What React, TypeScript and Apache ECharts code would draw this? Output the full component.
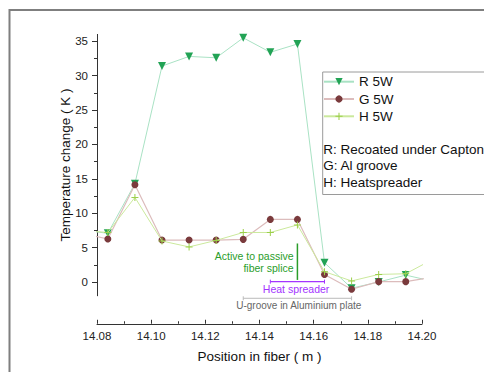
import React, { useEffect, useRef } from "react";
import * as echarts from "echarts";

const positions = [14.074, 14.084, 14.094, 14.104, 14.114, 14.124, 14.134, 14.144, 14.154, 14.164, 14.174, 14.184, 14.194, 14.204];
const rValues = [7.58, 7.08, 14.3, 31.4, 32.8, 32.6, 35.5, 33.4, 34.6, 2.8, -0.9, 0.0, 1.0, 0.1];
const gValues = [7.1, 6.25, 14.15, 6.1, 6.1, 6.1, 6.2, 9.1, 9.1, 1.1, -1.06, 0.05, 0.05, 0.7];
const hValues = [7.5, 7.2, 12.3, 5.96, 5.1, 6.05, 7.2, 7.2, 8.3, 1.5, 0.15, 1.1, 1.2, 3.3];

const seriesNames = ["R 5W", "G 5W", "H 5W"];
const xTickLabels = [14.08, 14.1, 14.12, 14.14, 14.16, 14.18, 14.2];
const yTickLabels = [0, 5, 10, 15, 20, 25, 30, 35];
const yMinorTicks = [2.5, 7.5, 12.5, 17.5, 22.5, 27.5, 32.5];
const descriptionLines = ["R: Recoated under Capton", "G: Al groove", "H: Heatspreader"];

// annotations in data coordinates
const spliceLine = { x: 14.154, y1: 5.6, y2: 0.3 };
const spliceText = [
  { text: "Active to passive", x: 14.1526, y: 3.82 },
  { text: "fiber splice", x: 14.1526, y: 2.08 },
];
const heatSpreader = { x1: 14.144, x2: 14.164, y: 0.05, label: "Heat spreader", lx: 14.1535, ly: -1.06 };
const uGroove = { x1: 14.134, x2: 14.174, y: -2.37, label: "U-groove in Aluminium plate", lx: 14.1545, ly: -3.49 };

const FONT = "'Liberation Sans', Arial, sans-serif";

export default function App() {
  const ref = useRef<HTMLDivElement>(null);
  useEffect(() => {
    if (!ref.current) return;
    const chart = echarts.init(ref.current, null, { renderer: "svg" });
    const pair = (vals: number[]) => positions.map((p, i) => [p, vals[i]]);
    const axisColor = "#333";
    chart.setOption({
      animation: false,
      backgroundColor: "#fff",
      textStyle: { fontFamily: FONT },
      grid: { left: 97, right: 62, top: 34.4, bottom: 76.25, containLabel: false },
      legend: {
        left: 323,
        top: 74.7,
        orient: "vertical",
        padding: 0,
        itemWidth: 30,
        itemHeight: 9,
        itemGap: 3.3,
        data: seriesNames,
        textStyle: { fontSize: 13.5, color: "#111", fontFamily: FONT, lineHeight: 14 },
      },
      xAxis: {
        type: "value",
        min: 14.08,
        max: 14.2,
        interval: 0.02,
        offset: 28,
        axisLine: { show: true, onZero: false, lineStyle: { color: axisColor, width: 1 } },
        axisTick: { show: true, inside: true, length: 4, lineStyle: { color: axisColor } },
        minorTick: { show: true, splitNumber: 2, length: 2.5, lineStyle: { color: axisColor } },
        splitLine: { show: false },
        minorSplitLine: { show: false },
        axisLabel: {
          fontSize: 11.5,
          color: "#222",
          margin: 6,
          fontFamily: FONT,
          formatter: (v: number) => v.toFixed(2),
          customValues: xTickLabels,
        },
        name: "Position in fiber ( m )",
        nameLocation: "middle",
        nameGap: 26,
        nameMoveOverlap: false,
        nameTextStyle: { fontSize: 13.5, color: "#111", fontFamily: FONT },
      },
      yAxis: [
        {
          type: "value",
          min: -2,
          max: 36,
          axisLine: { show: true, onZero: false, lineStyle: { color: axisColor, width: 1 } },
          axisTick: { show: true, inside: false, length: 5, customValues: yTickLabels, lineStyle: { color: axisColor } },
          splitLine: { show: false },
          axisLabel: { fontSize: 11.5, color: "#222", margin: 9, fontFamily: FONT, customValues: yTickLabels },
          name: "Temperature change ( K )",
          nameLocation: "middle",
          nameGap: 25,
          nameMoveOverlap: false,
          nameTextStyle: { fontSize: 13.5, color: "#111", fontFamily: FONT },
        },
        {
          type: "value",
          min: -2,
          max: 36,
          position: "left",
          axisLine: { show: false, onZero: false },
          axisTick: { show: true, inside: false, length: 3, customValues: yMinorTicks, lineStyle: { color: axisColor } },
          splitLine: { show: false },
          axisLabel: { show: false },
        },
      ],
      series: [
        {
          name: seriesNames[0],
          type: "line",
          data: pair(rValues),
          symbol: "triangle",
          symbolRotate: 180,
          symbolSize: 8,
          itemStyle: { color: "#22a355" },
          lineStyle: { color: "#a9e2c4", width: 1 },
          z: 3,
        },
        {
          name: seriesNames[1],
          type: "line",
          data: pair(gValues),
          symbol: "circle",
          symbolSize: 7,
          itemStyle: { color: "#7a3a3c" },
          lineStyle: { color: "#dcbcbc", width: 1.2 },
          z: 4,
        },
        {
          name: seriesNames[2],
          type: "line",
          data: pair(hValues),
          symbol: "path://M3,0H4V3H7V4H4V7H3V4H0V3H3Z",
          symbolSize: 7,
          itemStyle: { color: "#9ccf4a" },
          lineStyle: { color: "#cbe99c", width: 1 },
          z: 5,
        },
      ],
    });

    const px = (x: number, y: number) => chart.convertToPixel({ gridIndex: 0 }, [x, y]) as number[];
    const green = "#2a9d2a";
    const purple = "#a334ff";
    const gray = "#666";
    const graphics: any[] = [];
    graphics.push({
      type: "rect",
      shape: { x: 9.5, y: 10, width: 700, height: 700 },
      style: { fill: "none", stroke: "#7f7f7f", lineWidth: 2 },
      silent: true,
      z: 0,
    });
    graphics.push({
      type: "rect",
      shape: { x: 322.7, y: 72, width: 400, height: 122.5 },
      style: { fill: "none", stroke: "#9a9a9a", lineWidth: 1 },
      silent: true,
    });
    descriptionLines.forEach((t, i) => {
      graphics.push({
        type: "text",
        x: 323.3,
        y: 149 + i * 16.85,
        style: { text: t, fontSize: 13.5, fill: "#111", fontFamily: FONT, verticalAlign: "middle", align: "left" },
      });
    });
    // splice
    const s1 = px(spliceLine.x, spliceLine.y1);
    const s2 = px(spliceLine.x, spliceLine.y2);
    graphics.push({ type: "line", shape: { x1: s1[0], y1: s1[1], x2: s2[0], y2: s2[1] }, style: { stroke: green, lineWidth: 1.5 } });
    spliceText.forEach((t) => {
      const p = px(t.x, t.y);
      graphics.push({ type: "text", x: p[0], y: p[1], style: { text: t.text, fontSize: 10.5, fill: green, fontFamily: FONT, align: "right", verticalAlign: "middle" } });
    });
    // bracket lines
    const bracket = (b: any, color: string, textColor: string, lw: number, fs: number) => {
      const a = px(b.x1, b.y);
      const c = px(b.x2, b.y);
      graphics.push({ type: "line", shape: { x1: a[0], y1: a[1], x2: c[0], y2: c[1] }, style: { stroke: color, lineWidth: lw } });
      graphics.push({ type: "line", shape: { x1: a[0], y1: a[1] - 2, x2: a[0], y2: a[1] + 2 }, style: { stroke: color, lineWidth: 1 } });
      graphics.push({ type: "line", shape: { x1: c[0], y1: c[1] - 2, x2: c[0], y2: c[1] + 2 }, style: { stroke: color, lineWidth: 1 } });
      const l = px(b.lx, b.ly);
      graphics.push({ type: "text", x: l[0], y: l[1], style: { text: b.label, fontSize: fs, fill: textColor, fontFamily: FONT, align: "center", verticalAlign: "middle" } });
    };
    bracket(heatSpreader, purple, purple, 1.3, 10.5);
    bracket(uGroove, "#bbb", gray, 1, 10);
    chart.setOption({ graphic: graphics });

    return () => chart.dispose();
  }, []);
  return <div ref={ref} style={{ position: "absolute", left: 0, top: 0, width: 484, height: 372 }} />;
}
